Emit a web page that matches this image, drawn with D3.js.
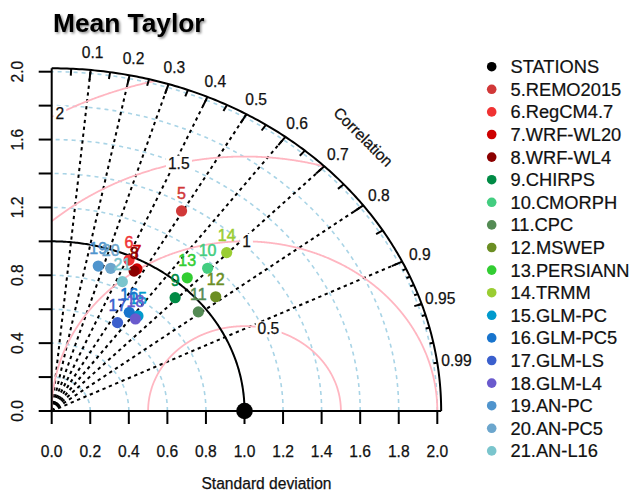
<!DOCTYPE html>
<html>
<head>
<meta charset="utf-8">
<script src="https://cdn.jsdelivr.net/npm/d3@7"></script>
<style>
  html, body { margin: 0; padding: 0; background: #fff; }
  svg { display: block; font-family: "Liberation Sans", Arial, sans-serif; }
</style>
</head>
<body>
<svg id="chart" width="634" height="493"></svg>
<script>
// Model / product names, in legend order
const names = ["5.REMO2015", "6.RegCM4.7", "7.WRF-WL20", "8.WRF-WL4", "9.CHIRPS",
  "10.CMORPH", "11.CPC", "12.MSWEP", "13.PERSIANN", "14.TRMM", "15.GLM-PC",
  "16.GLM-PC5", "17.GLM-LS", "18.GLM-L4", "19.AN-PC", "20.AN-PC5", "21.AN-L16"];
// Short labels drawn next to each point
const pointLabels = ["5", "6", "7", "8", "9", "10", "11", "12", "13", "14", "15",
  "16", "17", "18", "19", "20", "21"];
// Normalised standard deviation of each product
const stdDev = [1.358, 0.976, 0.947, 0.929, 0.925, 1.167, 0.959, 1.085, 1.054,
  1.302, 0.717, 0.707, 0.623, 0.695, 0.888, 0.895, 0.846];
// Correlation with the station observations
const correlation = [0.496, 0.411, 0.467, 0.460, 0.692, 0.693, 0.793, 0.784, 0.667,
  0.697, 0.624, 0.569, 0.548, 0.625, 0.272, 0.342, 0.433];
const colors = ["#D13838", "#F03232", "#CD0000", "#8B0000", "#008B45", "#43CD80",
  "#548B54", "#6B8E23", "#32CD32", "#9ACD32", "#009ACD", "#1874CD", "#3A5FCD",
  "#6A5ACD", "#4F94CD", "#6CA6CD", "#7AC5CD"];

// Reference (stations)
const refSd = 1.0;
const refLabel = "STATIONS";

// Axis / grid values
const sdTicks = [0, 0.2, 0.4, 0.6, 0.8, 1.0, 1.2, 1.4, 1.6, 1.8, 2.0];
const sdTickLabelsY = [0, 0.4, 0.8, 1.2, 1.6, 2.0];
const sdArcs = [0.2, 0.4, 0.6, 0.8, 1.0, 1.2, 1.4, 1.6, 1.8, 2.0];
const corrLines = [0.1, 0.2, 0.3, 0.4, 0.5, 0.6, 0.7, 0.8, 0.9];
const corrLabels = [0.1, 0.2, 0.3, 0.4, 0.5, 0.6, 0.7, 0.8, 0.9, 0.95, 0.99];
const corrMedTicks = [0.05, 0.15, 0.25, 0.35, 0.45, 0.55, 0.65, 0.75, 0.85, 0.95];
const corrSmallTicks = [0.91, 0.92, 0.93, 0.94, 0.95, 0.96, 0.97, 0.98, 0.99];
const rmsArcs = [0.5, 1, 1.5, 2];
const rmsLabelAngles = [1.32, 1.56, 1.80, 2.07];

const maxRay = 2.02;

const svg = d3.select("#chart");
const x = d3.scaleLinear().domain([0, 2]).range([51.7, 437.3]);
const y = d3.scaleLinear().domain([0, 2]).range([411, 71.7]);
const fmt = d3.format(".1f");
const axisFont = 15.6;

const polar = (r, t) => [x(r * Math.cos(t)), y(r * Math.sin(t))];
const line = d3.line();
const quarterArc = r => line(d3.range(0, 201).map(i => polar(r, (Math.PI / 2) * i / 200)));

// Title with a soft shadow
const defs = svg.append("defs");
const f = defs.append("filter").attr("id", "shadow").attr("x", "-10%").attr("y", "-30%")
  .attr("width", "130%").attr("height", "170%");
f.append("feDropShadow").attr("dx", 1.5).attr("dy", 1.5).attr("stdDeviation", 1.2)
  .attr("flood-color", "#000").attr("flood-opacity", 0.45);
svg.append("text").attr("x", 53).attr("y", 32)
  .attr("font-size", 26.3).attr("font-weight", "bold").attr("fill", "#000")
  .attr("filter", "url(#shadow)").text("Mean Taylor");

// Standard deviation arcs
svg.append("g").selectAll("path").data(sdArcs).join("path")
  .attr("d", quarterArc).attr("fill", "none")
  .attr("stroke", "#a9d4e6").attr("stroke-width", 1.6).attr("stroke-dasharray", "4,4");

// Correlation rays
svg.append("g").selectAll("path").data(corrLines).join("path")
  .attr("d", c => line([polar(0, 0), polar(maxRay, Math.acos(c))]))
  .attr("stroke", "#000").attr("stroke-width", 2).attr("stroke-dasharray", "3.3,3.6");

// Centred RMS difference arcs
const rmsG = svg.append("g");
rmsArcs.forEach((g, i) => {
  const pts = d3.range(0, 1001).map(k => {
    const t = Math.PI * k / 1000;
    return [refSd + g * Math.cos(t), g * Math.sin(t)];
  }).filter(([a, b]) => a >= 0 && Math.hypot(a, b) <= maxRay);
  rmsG.append("path").attr("d", line(pts.map(([a, b]) => [x(a), y(b)])))
    .attr("fill", "none").attr("stroke", "#FFB6C1").attr("stroke-width", 1.8);
});

// Axes
const axG = svg.append("g").attr("stroke", "#000").attr("stroke-width", 2);
axG.append("line").attr("x1", x(0)).attr("x2", x(maxRay)).attr("y1", y(0)).attr("y2", y(0));
axG.append("line").attr("x1", x(0)).attr("x2", x(0)).attr("y1", y(0)).attr("y2", y(maxRay));
axG.selectAll(".xt").data(sdTicks).join("line").attr("class", "xt")
  .attr("x1", d => x(d)).attr("x2", d => x(d)).attr("y1", y(0)).attr("y2", y(0) + 13);
axG.selectAll(".yt").data(sdTicks).join("line").attr("class", "yt")
  .attr("y1", d => y(d)).attr("y2", d => y(d)).attr("x1", x(0)).attr("x2", x(0) - 13);

const textStyle = sel => sel.attr("font-size", axisFont).attr("fill", "#111")
  .attr("stroke", "#111").attr("stroke-width", 0.25);

svg.append("g").selectAll("text").data(sdTicks).join("text")
  .attr("x", d => x(d)).attr("y", 456.8).attr("text-anchor", "middle")
  .call(textStyle).text(d => fmt(d));
svg.append("g").selectAll("text").data(sdTickLabelsY).join("text")
  .attr("transform", d => `translate(22.5,${y(d)}) rotate(-90)`)
  .attr("text-anchor", "middle").call(textStyle).text(d => fmt(d));
svg.append("text").attr("x", 266.5).attr("y", 489).attr("text-anchor", "middle")
  .call(textStyle).text("Standard deviation");

// Outer arc and reference arc
svg.append("path").attr("d", quarterArc(maxRay)).attr("fill", "none")
  .attr("stroke", "#000").attr("stroke-width", 2);
svg.append("path").attr("d", quarterArc(refSd)).attr("fill", "none")
  .attr("stroke", "#000").attr("stroke-width", 2);

// Correlation ticks
const tickG = svg.append("g").attr("stroke", "#000").attr("stroke-width", 2);
const addTicks = (vals, inner) => tickG.append("g").selectAll("line").data(vals).join("line")
  .attr("x1", c => polar(maxRay, Math.acos(c))[0]).attr("y1", c => polar(maxRay, Math.acos(c))[1])
  .attr("x2", c => polar(maxRay * inner, Math.acos(c))[0]).attr("y2", c => polar(maxRay * inner, Math.acos(c))[1]);
addTicks(corrLines, 0.97);
addTicks(corrMedTicks, 0.98);
addTicks(corrSmallTicks, 0.99);

svg.append("g").selectAll("text").data(corrLabels).join("text")
  .attr("x", c => polar(maxRay * 1.05, Math.acos(c))[0])
  .attr("y", c => polar(maxRay * 1.05, Math.acos(c))[1])
  .attr("text-anchor", "middle").attr("dominant-baseline", "central")
  .call(textStyle).text(c => c);
const cp = [x(maxRay * 0.8), y(maxRay * 0.8)];
svg.append("text").attr("transform", `translate(${cp[0]},${cp[1]}) rotate(45)`)
  .attr("text-anchor", "middle").attr("dominant-baseline", "central")
  .call(textStyle).text("Correlation");

// RMS labels on white boxes
rmsArcs.forEach((g, i) => {
  const t = rmsLabelAngles[i];
  const px = x(refSd + g * Math.cos(t)), py = y(g * Math.sin(t));
  const grp = svg.append("g");
  const txt = grp.append("text").attr("x", px).attr("y", py)
    .attr("text-anchor", "middle").attr("dominant-baseline", "central")
    .call(textStyle).text(g);
  const bb = txt.node().getBBox();
  grp.insert("rect", "text").attr("x", bb.x - 2).attr("y", bb.y + 1)
    .attr("width", bb.width + 4).attr("height", bb.height - 2).attr("fill", "#fff");
});

// Reference point
svg.append("circle").attr("cx", x(refSd)).attr("cy", y(0)).attr("r", 8.3).attr("fill", "#000");

// Product points and their labels
const pts = names.map((n, i) => {
  const t = Math.acos(correlation[i]);
  const [px, py] = polar(stdDev[i], t);
  return { px, py, color: colors[i], label: pointLabels[i] };
});
svg.append("g").selectAll("circle").data(pts).join("circle")
  .attr("cx", d => d.px).attr("cy", d => d.py).attr("r", 5.6).attr("fill", d => d.color);
svg.append("g").selectAll("text").data(pts).join("text")
  .attr("x", d => d.px).attr("y", d => d.py - 17.5)
  .attr("text-anchor", "middle").attr("dominant-baseline", "central")
  .attr("font-size", 16).attr("fill", d => d.color)
  .attr("stroke", d => d.color).attr("stroke-width", 0.5).text(d => d.label);

// Legend
const legendItems = [{ name: refLabel, color: "#000" }]
  .concat(names.map((n, i) => ({ name: n, color: colors[i] })));
const leg = svg.append("g").selectAll("g").data(legendItems).join("g")
  .attr("transform", (d, i) => `translate(0,${66.7 + i * 22.6})`);
leg.append("circle").attr("cx", 491.7).attr("cy", 0).attr("r", 4.8).attr("fill", d => d.color);
leg.append("text").attr("x", 510.5).attr("y", 0).attr("dominant-baseline", "central")
  .attr("font-size", 18.3).attr("fill", "#111").attr("stroke", "#111").attr("stroke-width", 0.2)
  .text(d => d.name);
</script>
</body>
</html>
